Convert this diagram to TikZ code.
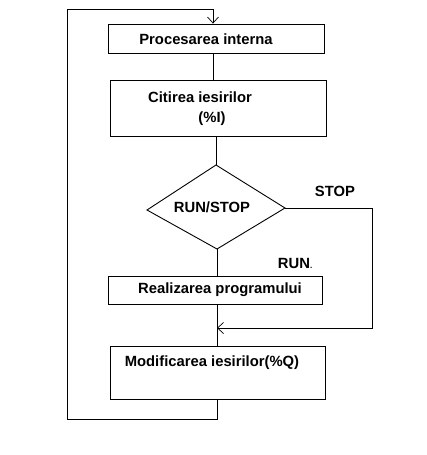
\documentclass[tikz,border=0pt]{standalone}
\usepackage{fontspec}
\setmainfont{Liberation Sans}
\usetikzlibrary{arrows.meta}
\begin{document}
\begin{tikzpicture}[x=1pt,y=-1pt,
  line width=0.9pt,
  box/.style={draw, rectangle, inner sep=0pt},
  txt/.style={inner sep=0pt, font=\fontsize{14.8}{17}\selectfont\bfseries},
  arr/.style={-{Straight Barb[length=6pt,width=11pt,line width=0.7pt]}}]
\useasboundingbox (0,0) rectangle (427,455);
% boxes
\node[box, minimum width=216pt, minimum height=29pt] (b1) at (216,38.5) {};
\node[txt] (t1) at (206,39) {Procesarea interna};
\node[box, minimum width=216pt, minimum height=56pt] (b2) at (218,108) {};
\node[txt] (t2a) at (200,97) {Citirea iesirilor};
\node[txt] (t2b) at (212,119) {(\%I)};
% diamond
\coordinate (dt) at (216,165);
\coordinate (dl) at (147,210);
\coordinate (dr) at (285,208);
\coordinate (db) at (217,249);
\draw (dt) -- (dr) -- (db) -- (dl) -- cycle;
\node[txt] (t3) at (212,207) {RUN/STOP};
\node[box, minimum width=214pt, minimum height=28pt] (b3) at (215,290) {};
\node[txt] (t4) at (220,290) {Realizarea programului};
\node[box, minimum width=215pt, minimum height=53pt] (b4) at (217.5,372.5) {};
\node[txt] (t5) at (212,363) {Modificarea iesirilor(\%Q)};
% labels
\node[txt] (lstop) at (335,191) {STOP};
\node[txt] (lrun) at (294,263) {RUN\rlap{\fontsize{8}{8}\selectfont.}};
% connectors
\draw (b1.south -| 213,0) -- (b2.north -| 213,0);
\draw (b2.south -| 216,0) -- (dt);
\draw (db) -- (b3.north -| 217,0);
\draw (b3.south -| 217,0) -- (b4.north -| 217,0);
\coordinate (m) at (217,328);
\coordinate (c1) at (372,208);
\coordinate (c2) at (372,328);
\draw[arr] (dr) -- (c1) -- (c2) -- (m);
\coordinate (l1) at (217,419);
\coordinate (l2) at (67,419);
\coordinate (l3) at (67,9);
\coordinate (l4) at (213,9);
\draw[arr] (b4.south -| 217,0) -- (l1) -- (l2) -- (l3) -- (l4) -- (b1.north -| 213,0);
\end{tikzpicture}
\end{document}
